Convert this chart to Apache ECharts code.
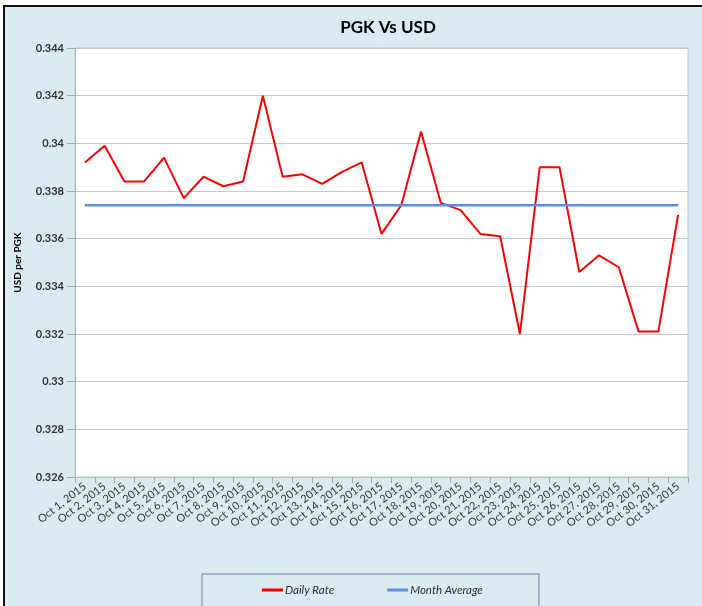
<!DOCTYPE html>
<html>
<head>
<meta charset="utf-8">
<script src="https://cdn.jsdelivr.net/npm/echarts@6/dist/echarts.min.js"></script>
<style>
  html, body { margin: 0; padding: 0; background: #ffffff; }
  #chart { width: 702px; height: 606px; }
</style>
</head>
<body>
<div id="chart"></div>
<script>
// data
const days = [
  "Oct 1, 2015", "Oct 2, 2015", "Oct 3, 2015", "Oct 4, 2015", "Oct 5, 2015",
  "Oct 6, 2015", "Oct 7, 2015", "Oct 8, 2015", "Oct 9, 2015", "Oct 10, 2015",
  "Oct 11, 2015", "Oct 12, 2015", "Oct 13, 2015", "Oct 14, 2015", "Oct 15, 2015",
  "Oct 16, 2015", "Oct 17, 2015", "Oct 18, 2015", "Oct 19, 2015", "Oct 20, 2015",
  "Oct 21, 2015", "Oct 22, 2015", "Oct 23, 2015", "Oct 24, 2015", "Oct 25, 2015",
  "Oct 26, 2015", "Oct 27, 2015", "Oct 28, 2015", "Oct 29, 2015", "Oct 30, 2015",
  "Oct 31, 2015"
];
const dailyRate = [
  0.3392, 0.3399, 0.3384, 0.3384, 0.3394,
  0.3377, 0.3386, 0.3382, 0.3384, 0.3420,
  0.3386, 0.3387, 0.3383, 0.3388, 0.3392,
  0.3362, 0.3374, 0.3405, 0.3375, 0.3372,
  0.3362, 0.3361, 0.3320, 0.3390, 0.3390,
  0.3346, 0.3353, 0.3348, 0.3321, 0.3321,
  0.3370
];
const monthAverage = [
  0.3374, 0.3374, 0.3374, 0.3374, 0.3374,
  0.3374, 0.3374, 0.3374, 0.3374, 0.3374,
  0.3374, 0.3374, 0.3374, 0.3374, 0.3374,
  0.3374, 0.3374, 0.3374, 0.3374, 0.3374,
  0.3374, 0.3374, 0.3374, 0.3374, 0.3374,
  0.3374, 0.3374, 0.3374, 0.3374, 0.3374,
  0.3374
];
const yMin = 0.326;
const yMax = 0.344;
const yStep = 0.002;

const font = "Lato, 'Open Sans', sans-serif";
const chart = echarts.init(document.getElementById("chart"), null, { renderer: "canvas" });

chart.setOption({
  animation: false,
  backgroundColor: "#dbebf2",
  textStyle: { fontFamily: font },
  title: {
    text: "PGK Vs USD",
    left: 383,
    top: 14,
    textAlign: "center",
    textStyle: { fontSize: 17, fontWeight: "bold", color: "#000", fontFamily: font }
  },
  // outer frame like the pasted chart object
  graphic: [
    { type: "rect", shape: { x: 0, y: 0, width: 702, height: 5 }, style: { fill: "#fff" }, silent: true },
    { type: "rect", shape: { x: 0, y: 0, width: 3, height: 606 }, style: { fill: "#fff" }, silent: true },
    { type: "line", shape: { x1: 3, y1: 6, x2: 702, y2: 6 }, style: { stroke: "#111", lineWidth: 2 }, silent: true },
    { type: "line", shape: { x1: 4, y1: 5, x2: 4, y2: 606 }, style: { stroke: "#111", lineWidth: 2 }, silent: true }
  ],
  legend: {
    data: ["Daily Rate", "Month Average"],
    left: 202,
    top: 574,
    padding: [10, 56, 20, 60],
    itemGap: 53,
    itemWidth: 21,
    itemHeight: 3,
    icon: "rect",
    borderColor: "#8fa3c4",
    borderWidth: 1.5,
    textStyle: { fontStyle: "italic", fontSize: 11.5, color: "#303030", fontFamily: font, padding: [0, 0, 0, -3] }
  },
  grid: {
    left: 75,
    right: 14,
    top: 48,
    bottom: 129,
    show: true,
    backgroundColor: "#ffffff",
    borderColor: "#c4c4c4",
    borderWidth: 1
  },
  xAxis: {
    type: "category",
    data: days,
    boundaryGap: true,
    axisLine: { lineStyle: { color: "#bdbdbd" } },
    axisTick: { show: true, interval: 0, length: 6, lineStyle: { color: "#a8a8a8" } },
    axisLabel: {
      interval: 0,
      rotate: 38,
      margin: 8,
      fontSize: 11,
      color: "#383838",
      fontFamily: font
    }
  },
  yAxis: {
    type: "value",
    min: yMin,
    max: yMax,
    interval: yStep,
    name: "USD per PGK",
    nameLocation: "middle",
    nameGap: 52,
    nameRotate: 90,
    nameTextStyle: { fontSize: 10, fontWeight: "bold", color: "#000", fontFamily: font },
    axisLine: { show: true, lineStyle: { color: "#bdbdbd" } },
    axisTick: { show: true, length: 8, lineStyle: { color: "#a8a8a8" } },
    axisLabel: {
      margin: 11,
      fontSize: 11,
      fontWeight: "bold",
      color: "#303030",
      fontFamily: font,
      formatter(v) {
        return String(parseFloat(v.toFixed(3)));
      }
    },
    splitLine: { lineStyle: { color: "#c8c8c8", width: 1 } }
  },
  series: [
    {
      name: "Daily Rate",
      type: "line",
      data: dailyRate,
      showSymbol: false,
      symbol: "none",
      color: "#ff0000",
      lineStyle: { color: "#ff0000", width: 2 }
    },
    {
      name: "Month Average",
      type: "line",
      data: monthAverage,
      showSymbol: false,
      symbol: "none",
      color: "#5b8fd9",
      lineStyle: { color: "#5b8fd9", width: 2.5 }
    }
  ]
});
</script>
</body>
</html>
